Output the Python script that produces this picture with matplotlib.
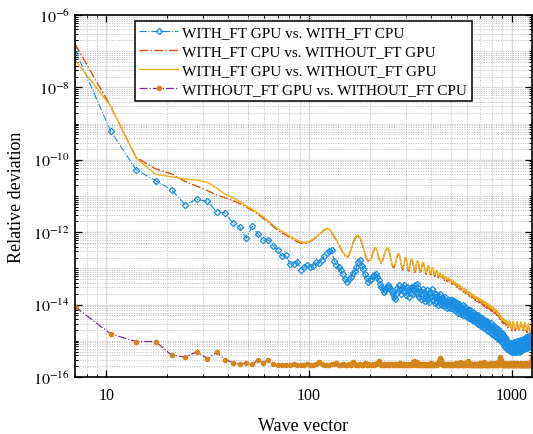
import numpy as np
import matplotlib
matplotlib.use("Agg")
import matplotlib.pyplot as plt
from matplotlib.ticker import FixedLocator, LogLocator, NullFormatter, FuncFormatter

plt.rcParams['font.family'] = ['Liberation Serif', 'DejaVu Serif']
plt.rcParams['mathtext.fontset'] = 'stix'

# wave vector grid (step 3.5, from 7 to 1260)
wave_vector = 3.5 * np.arange(2, 361)

# log10 of relative deviation
gpu_vs_cpu_ft = [
    -6.96, -9.21, -10.27, -10.58, -10.83, -11.24, -11.09, -11.15, -11.43, -11.47,
    -11.74, -11.86, -12.17, -11.84, -12.05, -12.22, -12.21, -12.37, -12.50,
    -12.66, -12.63, -12.88, -12.87, -12.81, -13.05, -12.97, -12.91, -12.96, -12.92,
    -12.83, -12.86, -12.76, -12.66, -12.58, -12.52, -12.48, -12.79, -12.90, -12.97,
    -13.05, -13.15, -13.30, -13.38, -13.29, -13.25, -13.12, -13.06, -12.95, -12.83,
    -12.76, -12.92, -13.02, -13.15, -13.26, -13.38, -13.33, -13.29, -13.22, -13.17,
    -13.15, -13.25, -13.32, -13.42, -13.52, -13.58, -13.64, -13.60, -13.52, -13.45,
    -13.50, -13.58, -13.63, -13.72, -13.80, -13.85, -13.70, -13.55, -13.45, -13.58,
    -13.70, -13.50, -13.62, -13.45, -13.66, -13.74, -13.52, -13.60, -13.78, -13.55,
    -13.68, -13.50, -13.72, -13.58, -13.46, -13.64, -13.43, -13.70, -13.55, -13.80,
    -13.62, -13.85, -13.70, -13.58, -13.82, -13.66, -13.90, -13.74, -13.60, -13.86,
    -13.70, -13.92, -13.64, -13.80, -13.57, -13.75, -13.88, -13.68, -13.96, -13.78,
    -13.72, -13.94, -13.80, -14.00, -13.76, -13.90, -13.70, -13.98, -13.84, -14.02,
    -13.82, -14.05, -13.88, -13.78, -14.02, -13.92, -14.10, -13.86, -13.98, -14.06,
    -13.88, -14.10, -13.95, -14.05, -13.86, -14.12, -13.98, -14.04, -13.90, -14.15,
    -14.00, -14.18, -13.96, -14.12, -14.04, -14.22, -13.98, -14.15, -14.08, -14.25,
    -14.05, -14.24, -14.10, -14.02, -14.28, -14.15, -14.20, -14.06, -14.30, -14.18,
    -14.12, -14.34, -14.20, -14.28, -14.14, -14.38, -14.24, -14.16, -14.35, -14.26,
    -14.22, -14.42, -14.28, -14.36, -14.20, -14.44, -14.32, -14.26, -14.46, -14.34,
    -14.30, -14.50, -14.36, -14.45, -14.28, -14.54, -14.40, -14.34, -14.56, -14.44,
    -14.38, -14.58, -14.44, -14.52, -14.36, -14.62, -14.48, -14.42, -14.64, -14.52,
    -14.46, -14.66, -14.52, -14.60, -14.44, -14.70, -14.56, -14.50, -14.72, -14.60,
    -14.54, -14.74, -14.60, -14.68, -14.52, -14.78, -14.64, -14.58, -14.80, -14.68,
    -14.62, -14.82, -14.68, -14.76, -14.60, -14.86, -14.72, -14.66, -14.88, -14.76,
    -14.70, -14.90, -14.76, -14.84, -14.68, -14.94, -14.80, -14.74, -14.96, -14.86,
    -14.80, -15.00, -14.86, -14.94, -14.78, -15.04, -14.90, -14.84, -15.06, -14.96,
    -14.92, -15.12, -14.98, -15.06, -14.90, -15.16, -15.02, -14.96, -15.18, -15.08,
    -15.04, -15.22, -15.08, -15.16, -15.02, -15.26, -15.12, -15.06, -15.28, -15.16,
    -15.08, -15.28, -15.14, -15.22, -15.06, -15.30, -15.16, -15.10, -15.32, -15.20,
    -15.08, -15.30, -15.12, -15.24, -15.04, -15.28, -15.16, -15.08, -15.32, -15.18,
    -15.04, -15.26, -15.10, -15.20, -15.00, -15.28, -15.12, -15.06, -15.30, -15.16,
    -15.02, -15.24, -15.08, -15.18, -14.98, -15.26, -15.10, -15.04, -15.28, -15.14,
    -14.98, -15.22, -15.04, -15.14, -14.94, -15.22, -15.06, -15.00, -15.24, -15.10,
    -14.94, -15.18, -15.00, -15.10, -14.90, -15.18, -15.02, -14.96, -15.20, -15.06,
    -14.92, -15.16, -14.98, -15.08, -14.88, -15.16, -15.00, -14.94, -15.18, -15.04,
    -14.88, -15.10, -14.94, -15.04, -14.84, -15.12, -14.96, -14.90, -15.06, -14.86,
]

cpu_ft_vs_gpu = [
    -6.80, -8.52, -9.93, -10.25, -10.39, -10.60, -10.73, -10.85, -10.97, -11.05,
    -11.12, -11.21, -11.31, -11.40, -11.50, -11.62, -11.73, -11.84, -11.94,
    -12.01, -12.08, -12.15, -12.21, -12.26, -12.30, -12.32, -12.30, -12.26, -12.20,
    -12.14, -12.07, -12.00, -11.94, -11.90, -11.93, -12.02, -12.12, -12.22, -12.34,
    -12.46, -12.57, -12.66, -12.70, -12.64, -12.50, -12.32, -12.19, -12.12, -12.11,
    -12.17, -12.29, -12.45, -12.61, -12.73, -12.81, -12.82, -12.72, -12.57, -12.46,
    -12.45, -12.54, -12.70, -12.84, -12.86, -12.78, -12.65, -12.52, -12.46, -12.45,
    -12.52, -12.67, -12.84, -12.96, -12.98, -12.90, -12.76, -12.64, -12.60, -12.66,
    -12.81, -12.98, -13.04, -12.91, -12.72, -12.71, -12.87, -13.05, -13.08, -12.92,
    -12.78, -12.76, -12.85, -13.02, -13.11, -13.03, -12.87, -12.81, -12.84, -12.98,
    -13.13, -13.11, -12.96, -12.86, -12.86, -12.98, -13.12, -13.16, -13.06, -12.96,
    -12.94, -13.02, -13.15, -13.18, -13.08, -13.00, -13.01, -13.13, -13.22, -13.17,
    -13.09, -13.08, -13.16, -13.26, -13.23, -13.15, -13.14, -13.22, -13.30, -13.25,
    -13.20, -13.24, -13.33, -13.30, -13.24, -13.27, -13.36, -13.33, -13.28, -13.32,
    -13.40, -13.35, -13.32, -13.38, -13.44, -13.39, -13.36, -13.41, -13.49, -13.43,
    -13.40, -13.46, -13.52, -13.47, -13.44, -13.50, -13.57, -13.51, -13.48, -13.54,
    -13.60, -13.55, -13.53, -13.59, -13.66, -13.60, -13.57, -13.63, -13.70, -13.63,
    -13.61, -13.67, -13.74, -13.68, -13.65, -13.71, -13.78, -13.72, -13.69, -13.75,
    -13.81, -13.75, -13.72, -13.78, -13.86, -13.79, -13.76, -13.82, -13.89, -13.82,
    -13.79, -13.85, -13.92, -13.85, -13.82, -13.88, -13.95, -13.88, -13.85, -13.91,
    -13.98, -13.91, -13.88, -13.93, -14.01, -13.94, -13.91, -13.97, -14.05, -13.97,
    -13.94, -14.00, -14.08, -14.00, -13.97, -14.03, -14.11, -14.03, -14.00, -14.06,
    -14.13, -14.06, -14.03, -14.09, -14.17, -14.09, -14.06, -14.12, -14.20, -14.12,
    -14.09, -14.15, -14.23, -14.15, -14.12, -14.18, -14.26, -14.19, -14.16, -14.22,
    -14.30, -14.23, -14.20, -14.27, -14.35, -14.28, -14.25, -14.32, -14.40, -14.33,
    -14.31, -14.38, -14.46, -14.38, -14.36, -14.43, -14.50, -14.42, -14.40, -14.46,
    -14.53, -14.45, -14.43, -14.49, -14.56, -14.48, -14.46, -14.51, -14.58, -14.49,
    -14.52, -14.57, -14.64, -14.62, -14.65, -14.60, -14.54, -14.49, -14.47, -14.51,
    -14.55, -14.59, -14.66, -14.65, -14.68, -14.72, -14.64, -14.58, -14.52, -14.49,
    -14.48, -14.52, -14.56, -14.60, -14.67, -14.66, -14.69, -14.73, -14.68, -14.64,
    -14.58, -14.53, -14.50, -14.49, -14.53, -14.57, -14.61, -14.68, -14.67, -14.70,
    -14.74, -14.70, -14.68, -14.64, -14.59, -14.54, -14.51, -14.50, -14.54, -14.58,
    -14.62, -14.69, -14.68, -14.71, -14.75, -14.72, -14.71, -14.68, -14.63, -14.57,
    -14.53, -14.51, -14.52, -14.56, -14.60, -14.64, -14.71, -14.70, -14.73, -14.77,
    -14.73, -14.71, -14.67, -14.62, -14.57, -14.54, -14.54, -14.58, -14.62, -14.66,
    -14.73, -14.72, -14.75, -14.79, -14.74, -14.72, -14.76, -14.83, -14.89, -14.93,
]

gpu_ft_vs_gpu = [
    -7.24, -8.52, -9.95, -10.40, -10.47, -10.53, -10.56, -10.62, -10.78, -10.95,
    -11.04, -11.15, -11.27, -11.37, -11.47, -11.58, -11.69, -11.80, -11.90,
    -11.97, -12.04, -12.11, -12.17, -12.22, -12.26, -12.28, -12.27, -12.24, -12.19,
    -12.13, -12.06, -11.99, -11.93, -11.89, -11.92, -12.00, -12.10, -12.20, -12.32,
    -12.44, -12.55, -12.63, -12.67, -12.62, -12.48, -12.30, -12.17, -12.10, -12.09,
    -12.15, -12.27, -12.42, -12.58, -12.70, -12.78, -12.79, -12.70, -12.55, -12.44,
    -12.43, -12.52, -12.67, -12.80, -12.82, -12.76, -12.63, -12.50, -12.44, -12.43,
    -12.50, -12.64, -12.80, -12.92, -12.94, -12.88, -12.74, -12.62, -12.58, -12.64,
    -12.78, -12.95, -13.00, -12.88, -12.70, -12.69, -12.84, -13.01, -13.04, -12.90,
    -12.76, -12.74, -12.82, -12.98, -13.07, -13.00, -12.85, -12.79, -12.82, -12.95,
    -13.09, -13.07, -12.94, -12.84, -12.84, -12.95, -13.08, -13.12, -13.03, -12.94,
    -12.92, -12.99, -13.11, -13.14, -13.05, -12.98, -12.99, -13.09, -13.18, -13.14,
    -13.07, -13.06, -13.13, -13.22, -13.20, -13.13, -13.12, -13.19, -13.26, -13.22,
    -13.18, -13.21, -13.29, -13.27, -13.22, -13.25, -13.32, -13.30, -13.26, -13.29,
    -13.36, -13.33, -13.30, -13.35, -13.40, -13.37, -13.34, -13.38, -13.44, -13.41,
    -13.38, -13.43, -13.48, -13.45, -13.42, -13.47, -13.52, -13.49, -13.46, -13.51,
    -13.56, -13.53, -13.51, -13.56, -13.61, -13.58, -13.55, -13.60, -13.65, -13.61,
    -13.59, -13.64, -13.69, -13.66, -13.63, -13.68, -13.73, -13.70, -13.67, -13.72,
    -13.76, -13.73, -13.70, -13.75, -13.80, -13.77, -13.74, -13.79, -13.83, -13.80,
    -13.77, -13.82, -13.86, -13.83, -13.80, -13.85, -13.89, -13.86, -13.83, -13.88,
    -13.92, -13.89, -13.86, -13.90, -13.95, -13.92, -13.89, -13.94, -13.98, -13.95,
    -13.92, -13.97, -14.01, -13.98, -13.95, -14.00, -14.04, -14.01, -13.98, -14.03,
    -14.07, -14.04, -14.01, -14.06, -14.10, -14.07, -14.04, -14.09, -14.13, -14.10,
    -14.07, -14.12, -14.16, -14.13, -14.10, -14.15, -14.19, -14.17, -14.14, -14.19,
    -14.23, -14.21, -14.18, -14.24, -14.28, -14.26, -14.23, -14.29, -14.33, -14.31,
    -14.29, -14.35, -14.39, -14.36, -14.34, -14.40, -14.43, -14.40, -14.38, -14.43,
    -14.46, -14.43, -14.41, -14.46, -14.49, -14.46, -14.44, -14.48, -14.51, -14.47,
    -14.50, -14.54, -14.57, -14.60, -14.62, -14.58, -14.52, -14.47, -14.45, -14.48,
    -14.52, -14.56, -14.60, -14.63, -14.65, -14.66, -14.62, -14.56, -14.50, -14.47,
    -14.46, -14.49, -14.53, -14.57, -14.61, -14.64, -14.66, -14.67, -14.66, -14.62,
    -14.56, -14.51, -14.48, -14.47, -14.50, -14.54, -14.58, -14.62, -14.65, -14.67,
    -14.68, -14.68, -14.66, -14.62, -14.57, -14.52, -14.49, -14.48, -14.51, -14.55,
    -14.59, -14.63, -14.66, -14.68, -14.69, -14.70, -14.69, -14.66, -14.61, -14.55,
    -14.51, -14.49, -14.50, -14.53, -14.57, -14.61, -14.65, -14.68, -14.70, -14.71,
    -14.71, -14.69, -14.65, -14.60, -14.55, -14.52, -14.52, -14.55, -14.59, -14.63,
    -14.67, -14.70, -14.72, -14.73, -14.72, -14.70, -14.74, -14.80, -14.86, -14.90,
]

gpu_vs_cpu_noft = [
    -14.06, -14.81, -15.02, -15.02, -15.40, -15.45, -15.30, -15.49, -15.32, -15.52,
    -15.60, -15.65, -15.61, -15.65, -15.53, -15.61, -15.54, -15.65, -15.67, -15.66,
    -15.66, -15.67, -15.65, -15.66, -15.68, -15.66, -15.64, -15.67, -15.66, -15.65,
    -15.58, -15.63, -15.67, -15.66, -15.68, -15.65, -15.64, -15.60, -15.66,
    -15.67, -15.65, -15.68, -15.66, -15.63, -15.67, -15.58, -15.64, -15.66, -15.68,
    -15.65, -15.67, -15.66, -15.62, -15.67, -15.65, -15.68, -15.66, -15.64, -15.67,
    -15.65, -15.60, -15.56, -15.63, -15.66, -15.68, -15.65, -15.67, -15.64, -15.66,
    -15.68, -15.65, -15.63, -15.67, -15.66, -15.64, -15.68, -15.65, -15.66, -15.62,
    -15.66, -15.68, -15.64, -15.67, -15.65, -15.66, -15.63, -15.67, -15.65, -15.68,
    -15.64, -15.66, -15.61, -15.57, -15.63, -15.66, -15.65, -15.58, -15.64, -15.67,
    -15.65, -15.68, -15.66, -15.64, -15.67, -15.65, -15.63, -15.66, -15.68, -15.64,
    -15.66, -15.65, -15.67, -15.62, -15.66, -15.68, -15.64, -15.66, -15.65, -15.67,
    -15.64, -15.66, -15.63, -15.60, -15.55, -15.50, -15.47, -15.52, -15.60, -15.65,
    -15.67, -15.64, -15.66, -15.68, -15.65, -15.63, -15.66, -15.64, -15.67, -15.65,
    -15.66, -15.68, -15.64, -15.65, -15.67, -15.63, -15.66, -15.64, -15.68, -15.65,
    -15.66, -15.62, -15.67, -15.65, -15.64, -15.66, -15.68, -15.63, -15.58, -15.61,
    -15.64, -15.66, -15.65, -15.67, -15.64, -15.66, -15.62, -15.65, -15.68, -15.64,
    -15.66, -15.60, -15.63, -15.57, -15.62, -15.66, -15.64, -15.67, -15.65, -15.66,
    -15.63, -15.67, -15.65, -15.64, -15.68, -15.66, -15.63, -15.65, -15.67, -15.64,
    -15.66, -15.65, -15.68, -15.63, -15.66, -15.64, -15.67, -15.65, -15.66, -15.62,
    -15.65, -15.67, -15.64, -15.66, -15.68, -15.63, -15.65, -15.58, -15.62, -15.66,
    -15.64, -15.67, -15.65, -15.66, -15.63, -15.67, -15.64, -15.66, -15.68, -15.65,
    -15.64, -15.66, -15.63, -15.67, -15.65, -15.60, -15.64, -15.66, -15.68, -15.65,
    -15.63, -15.66, -15.64, -15.67, -15.65, -15.66, -15.62, -15.65, -15.67, -15.64,
    -15.66, -15.65, -15.68, -15.63, -15.66, -15.64, -15.60, -15.55, -15.50, -15.47,
    -15.46, -15.52, -15.60, -15.65, -15.67, -15.64, -15.66, -15.65, -15.68, -15.63,
    -15.66, -15.64, -15.67, -15.65, -15.66, -15.62, -15.65, -15.67, -15.64, -15.66,
    -15.65, -15.68, -15.63, -15.66, -15.64, -15.67, -15.65, -15.66, -15.62, -15.65,
    -15.67, -15.64, -15.66, -15.68, -15.65, -15.63, -15.66, -15.64, -15.67, -15.65,
    -15.66, -15.62, -15.65, -15.67, -15.64, -15.66, -15.68, -15.65, -15.63, -15.66,
    -15.64, -15.67, -15.65, -15.66, -15.62, -15.65, -15.67, -15.64, -15.66, -15.65,
    -15.68, -15.63, -15.66, -15.64, -15.67, -15.65, -15.66, -15.62, -15.65, -15.67,
    -15.64, -15.66, -15.68, -15.65, -15.63, -15.66, -15.64, -15.67, -15.65, -15.66,
    -15.62, -15.65, -15.67, -15.64, -15.66, -15.65, -15.68, -15.63, -15.66, -15.64,
    -15.67, -15.65, -15.66, -15.62, -15.65, -15.67, -15.64, -15.66, -15.65, -15.68,
    -15.63, -15.66, -15.64, -15.67, -15.65, -15.62, -15.58, -15.55, -15.52, -15.48,
]

labels = [
    "WITH_FT GPU vs. WITH_FT CPU",
    "WITH_FT CPU vs. WITHOUT_FT GPU",
    "WITH_FT GPU vs. WITHOUT_FT GPU",
    "WITHOUT_FT GPU vs. WITHOUT_FT CPU",
]

fig = plt.figure(figsize=(5.33, 4.35), dpi=100)
ax = fig.add_axes([75 / 533, 57 / 435, 457 / 533, 362 / 435])

ax.plot(wave_vector, 10.0 ** np.array(gpu_vs_cpu_ft), '-.', color='#1A8FE3', lw=0.8,
        marker='D', ms=3.2, mfc='none', mec='#1A8FE3', mew=0.9, label=labels[0])
ax.plot(wave_vector, 10.0 ** np.array(cpu_ft_vs_gpu), '-.', color='#D95319', lw=1.0,
        label=labels[1])
ax.plot(wave_vector, 10.0 ** np.array(gpu_ft_vs_gpu), '-', color='#EDB120', lw=1.0,
        label=labels[2])
ax.plot(wave_vector, 10.0 ** np.array(gpu_vs_cpu_noft), '-.', color='#7E2F8E', lw=0.9,
        marker='o', ms=3.0, mfc='#D4861C', mec='#D4861C', label=labels[3])

ax.set_xscale('log')
ax.set_yscale('log')
ax.set_xlim(7, 1260)
ax.set_ylim(1e-16, 1e-6)

ax.xaxis.set_major_locator(FixedLocator([10, 100, 1000]))
ax.xaxis.set_major_formatter(FuncFormatter(lambda v, p: f"{v:.0f}"))
ax.xaxis.set_minor_locator(LogLocator(base=10, subs=np.arange(2, 10), numticks=50))
ax.xaxis.set_minor_formatter(NullFormatter())

ax.yaxis.set_major_locator(FixedLocator([10.0 ** e for e in range(-16, -5, 2)]))
ax.yaxis.set_major_formatter(FuncFormatter(lambda v, p: r"$10^{%d}$" % round(np.log10(v))))
ax.yaxis.set_minor_locator(LogLocator(base=10, subs=np.arange(1, 10), numticks=100))
ax.yaxis.set_minor_formatter(NullFormatter())

ax.grid(True, which='major', color='#DCDCDC', lw=1.0, ls='-')
ax.grid(True, which='minor', color='#BDBDBD', lw=0.7, ls=(0, (1, 1.5)))
ax.set_axisbelow(True)

ax.tick_params(which='both', direction='in', top=True, right=True, labelsize=11.5,
               color='black')
ax.tick_params(axis='x', which='major', pad=7)
ax.tick_params(which='major', length=5, width=0.9)
ax.tick_params(which='minor', length=2.5, width=0.7)
for s in ax.spines.values():
    s.set_linewidth(1.2)
    s.set_color('black')

ax.set_xlabel("Wave vector", fontsize=13, labelpad=10)
ax.set_ylabel("Relative deviation", fontsize=13, labelpad=6)

leg = ax.legend(loc='upper left', bbox_to_anchor=(0.131, 0.983), borderaxespad=0,
                fontsize=11, frameon=True, fancybox=False, framealpha=1,
                edgecolor='black', handlelength=2.5, handletextpad=0.3,
                labelspacing=0.34, borderpad=0.3)
leg.get_frame().set_linewidth(1.1)

fig.savefig("out.png", dpi=100)
